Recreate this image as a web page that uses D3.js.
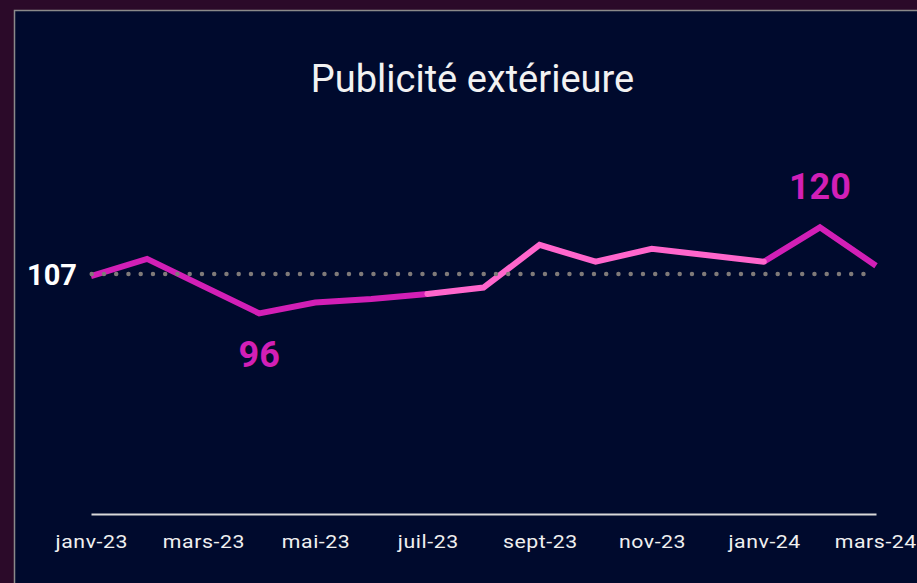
<!DOCTYPE html>
<html><head><meta charset="utf-8">
<script src="https://cdn.jsdelivr.net/npm/d3@7"></script>
<style>
html,body{margin:0;padding:0;background:#2b0a29;overflow:hidden;}
svg{display:block;font-family:Roboto,"Noto Sans",sans-serif;}
</style></head>
<body>
<script>
const months = ["janv-23","févr-23","mars-23","avr-23","mai-23","juin-23","juil-23","août-23","sept-23","oct-23","nov-23","déc-23","janv-24","févr-24","mars-24"];
const values = [106.4,111.2,103.6,96,99.0,100.0,101.4,103.2,115.1,110.4,114.0,112.2,110.4,120,109.3];
const tickLabels = ["janv-23","mars-23","mai-23","juil-23","sept-23","nov-23","janv-24","mars-24"];
const darkSegments = [[0,6],[12,14]];
const lightSegments = [[6,12]];
const reference = 107;
const minLabel = {index:3, text:"96"};
const maxLabel = {index:13, text:"120"};
const title = "Publicité extérieure";

const W = 917, H = 583;
const svg = d3.select("body").append("svg").attr("width",W).attr("height",H);
svg.append("rect").attr("width",W).attr("height",H).attr("fill","#2b0a29");
svg.append("rect").attr("x",14.5).attr("y",10.5).attr("width",W+20).attr("height",H+20)
  .attr("fill","#000a2d").attr("stroke","#8a8a8a").attr("stroke-width",1.5);

const x = d3.scalePoint().domain(months).range([91,876]);
const y = d3.scaleLinear().domain([40,130]).range([514,191.5]);

svg.append("text").attr("x",472.5).attr("y",92).attr("text-anchor","middle")
  .attr("font-size",38).attr("font-weight",400).attr("fill","#f2f2f2").text(title);

const line = d3.line().x(i=>x(months[i])).y(i=>y(values[i]));
const idx = (a,b)=>d3.range(a,b+1);

darkSegments.forEach(([a,b])=>{
  svg.append("path").attr("d",line(idx(a,b))).attr("fill","none")
    .attr("stroke","#d21fb6").attr("stroke-width",6).attr("stroke-linecap","butt");
});
lightSegments.forEach(([a,b])=>{
  svg.append("path").attr("d",line(idx(a,b))).attr("fill","none")
    .attr("stroke","#ff66cc").attr("stroke-width",6).attr("stroke-linecap","round");
});

// reference dotted line
svg.append("line").attr("x1",x(months[0])+0.7).attr("x2",x(months[months.length-1])-8)
  .attr("y1",y(reference)).attr("y2",y(reference))
  .attr("stroke","#7f7a79").attr("stroke-width",4.5).attr("stroke-linecap","round")
  .attr("stroke-dasharray","0 12.25");

svg.append("text").attr("x",77).attr("y",y(reference)+11).attr("text-anchor","end")
  .attr("font-size",29).attr("font-weight",700).attr("fill","#ffffff").text(String(reference));

svg.append("text").attr("x",x(months[minLabel.index])).attr("y",367).attr("text-anchor","middle")
  .attr("font-size",36).attr("font-weight",700).attr("fill","#d21fb6").text(minLabel.text);
svg.append("text").attr("x",x(months[maxLabel.index])).attr("y",199).attr("text-anchor","middle")
  .attr("font-size",36).attr("font-weight",700).attr("fill","#d21fb6").text(maxLabel.text);

// x axis
const axis = d3.axisBottom(x).tickValues(tickLabels).tickSize(0).tickPadding(0);
const g = svg.append("g").attr("transform","translate(0,514)").call(axis);
g.select(".domain").attr("stroke","#d9d9d9").attr("stroke-width",2);
g.selectAll(".tick text").attr("y",34).attr("dy",0).attr("dx",0.25).attr("font-size",18.5).attr("font-family","Roboto")
  .attr("letter-spacing","0.5px").attr("fill","#f0f0f0")
  .attr("transform",(d,i)=> i===tickLabels.length-1 ? "translate(-1,0) scale(1.15,1)" : "scale(1.15,1)");
</script>
</body></html>
